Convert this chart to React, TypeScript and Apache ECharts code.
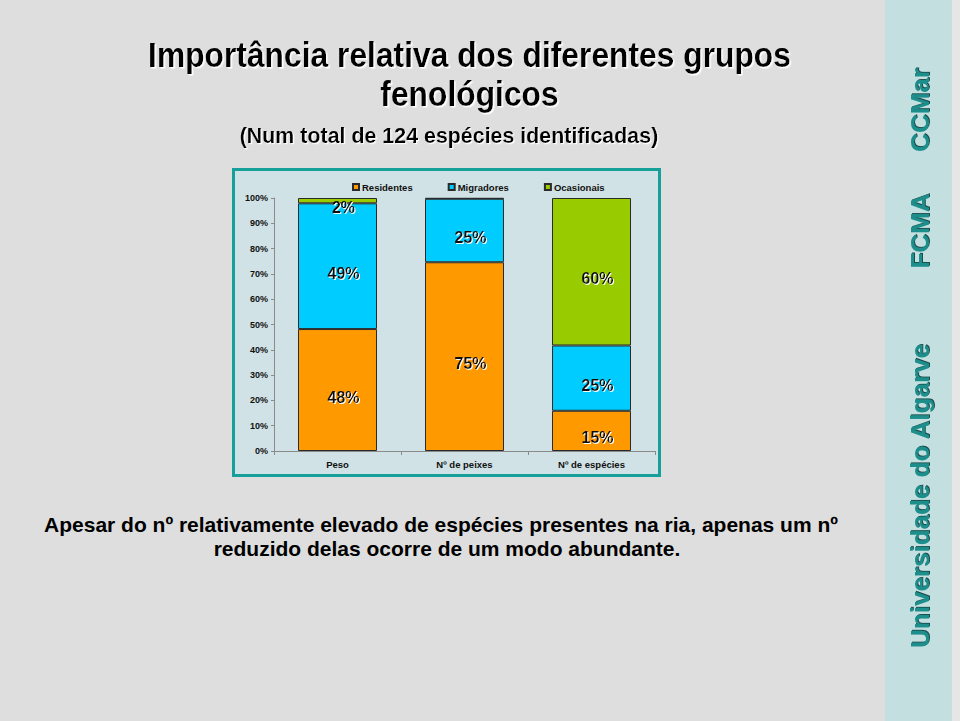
import React, { useEffect, useRef } from "react";
import * as echarts from "echarts";

const categories = ["Peso", "Nº de peixes", "Nº de espécies"];
const seriesNames = ["Residentes", "Migradores", "Ocasionais"];
const residentes = [48.2, 74.6, 15.9];
const migradores = [49.7, 25.1, 25.8];
const ocasionais = [2.1, 0.3, 58.3];
const residentesLabels = ["48%", "75%", "15%"];
const migradoresLabels = ["49%", "25%", "25%"];
const ocasionaisLabels = ["2%", "", "60%"];
const seriesColors = ["#ff9900", "#00ccff", "#99cc00"];
const yTicks = { min: 0, max: 100, interval: 10 };

const titleLine1 = "Importância relativa dos diferentes grupos";
const titleLine2 = "fenológicos";
const subtitle = "(Num total de 124 espécies identificadas)";
const bottomLine1 = "Apesar do nº relativamente elevado de espécies presentes na ria, apenas um nº";
const bottomLine2 = "reduzido delas ocorre de um modo abundante.";
const sideTexts = ["CCMar", "FCMA", "Universidade do Algarve"];

const FONT = "'Liberation Sans', Arial, sans-serif";

export default function App() {
  const ref = useRef<HTMLDivElement>(null);
  useEffect(() => {
    if (!ref.current) return;
    const chart = echarts.init(ref.current, null, { renderer: "svg" });
    const values = [residentes, migradores, ocasionais];
    const labels = [residentesLabels, migradoresLabels, ocasionaisLabels];

    const sideY = [110, 231, 496];

    chart.setOption({
      animation: false,
      backgroundColor: "#dedede",
      textStyle: { fontFamily: FONT },
      graphic: [
        { type: "rect", z: -10, shape: { x: 952, y: 0, width: 8, height: 721 }, style: { fill: "#e6e6e6" } },
        { type: "rect", z: -10, shape: { x: 885, y: 0, width: 67, height: 721 }, style: { fill: "#c4dfe0" } },
        {
          type: "rect", z: -10,
          shape: { x: 233.5, y: 169.5, width: 426, height: 306 },
          style: { fill: "#d0e2e5", stroke: "#17a09a", lineWidth: 3 },
        },
        ...[titleLine1, titleLine2].map((t, i) => ({
          type: "text", x: 469.5, y: 55 + i * 39,
          scaleY: 1.08,
          style: {
            text: t, fontFamily: FONT, fontWeight: "bold", fontSize: 31.8, fill: "#000",
            textAlign: "center", textVerticalAlign: "middle",
            textShadowColor: "#ffffff", textShadowOffsetX: 1.5, textShadowOffsetY: 1.5, textShadowBlur: 1,
          },
        })),
        {
          type: "text", x: 449, y: 135,
          scaleY: 1.05,
          style: {
            text: subtitle, fontFamily: FONT, fontWeight: "bold", fontSize: 21.4, fill: "#000",
            textAlign: "center", textVerticalAlign: "middle",
            textShadowColor: "#ffffff", textShadowOffsetX: 1.2, textShadowOffsetY: 1.2, textShadowBlur: 1,
          },
        },
        ...[bottomLine1, bottomLine2].map((t, i) => ({
          type: "text", x: i === 0 ? 441 : 447, y: 524 + i * 24,
          style: {
            text: t, fontFamily: FONT, fontWeight: "bold", fontSize: 21, fill: "#000",
            textAlign: "center", textVerticalAlign: "middle",
          },
        })),
        ...sideTexts.map((t, i) => ({
          type: "text", x: 920, y: sideY[i], rotation: Math.PI / 2,
          style: {
            text: t, fontFamily: FONT, fontWeight: "bold", fontSize: 26, fill: "#1b8f8c",
            textAlign: "center", textVerticalAlign: "middle",
            textShadowColor: "rgba(0,50,50,0.85)", textShadowOffsetX: 1, textShadowOffsetY: 1, textShadowBlur: 1,
          },
        })),
      ],
      legend: {
        data: seriesNames,
        left: 347,
        top: 177,
        itemWidth: 6,
        itemHeight: 6,
        itemGap: 35,
        icon: "rect",
        textStyle: { fontFamily: FONT, fontSize: 9.5, fontWeight: "bold", color: "#111", padding: [0, 0, 0, -2] },
      },
      grid: { left: 274, top: 198, width: 381, height: 253, containLabel: false, outerBoundsMode: "none" },
      xAxis: {
        type: "category",
        data: categories,
        axisLine: { lineStyle: { color: "#8a8a8a", width: 1 } },
        axisTick: { show: true, length: 4, lineStyle: { color: "#8a8a8a" } },
        axisLabel: { fontFamily: FONT, fontSize: 9.5, fontWeight: "bold", color: "#111", margin: 8 },
      },
      yAxis: {
        type: "value",
        min: yTicks.min,
        max: yTicks.max,
        interval: yTicks.interval,
        axisLine: { show: true, lineStyle: { color: "#8a8a8a", width: 1 } },
        axisTick: { show: true, length: 3, lineStyle: { color: "#8a8a8a" } },
        splitLine: { show: false },
        axisLabel: { formatter: "{value}%", fontFamily: FONT, fontSize: 9, fontWeight: "bold", color: "#111", margin: 6 },
      },
      series: seriesNames.map((name, si) => ({
        name,
        type: "bar",
        stack: "total",
        barWidth: 79,
        data: values[si],
        itemStyle: { color: seriesColors[si], borderColor: "#2a2a2a", borderWidth: 1 },
        label: {
          show: true,
          position: "inside",
          offset: [6, 7],
          formatter: (p: any) => labels[si][p.dataIndex],
          fontFamily: FONT,
          fontSize: 16,
          fontWeight: "bold",
          color: "#111",
          textShadowColor: "#ffffff",
          textShadowOffsetX: 1,
          textShadowOffsetY: 1,
          textShadowBlur: 1,
        },
      })),
    });
    return () => chart.dispose();
  }, []);
  return <div ref={ref} style={{ position: "fixed", left: 0, top: 0, width: 960, height: 721 }} />;
}
